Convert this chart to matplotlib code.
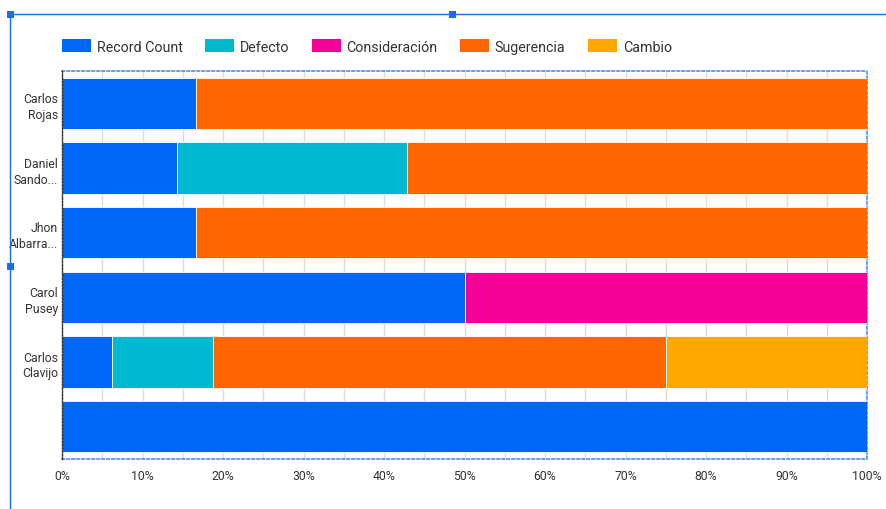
import matplotlib.pyplot as plt
import numpy as np
from matplotlib.lines import Line2D
from matplotlib.patches import Rectangle
from matplotlib.ticker import FuncFormatter, MultipleLocator

plt.rcParams["font.family"] = ["Roboto", "DejaVu Sans"]

people = ["Carlos\nRojas", "Daniel\nSando...", "Jhon\nAlbarra...", "Carol\nPusey", "Carlos\nClavijo", ""]
series_names = ["Record Count", "Defecto", "Consideración", "Sugerencia", "Cambio"]
record_count = [1, 1, 1, 1, 1, 1]
defecto = [0, 2, 0, 0, 2, 0]
consideracion = [0, 0, 0, 1, 0, 0]
sugerencia = [5, 4, 5, 0, 9, 0]
cambio = [0, 0, 0, 0, 4, 0]
colors = ["#0066F5", "#00B8CF", "#F50096", "#FF6600", "#FFA800"]

W, H = 886, 510
fig = plt.figure(figsize=(W / 100, H / 100), dpi=100)
ax = fig.add_axes([62 / W, (510 - 460) / H, (867 - 62) / W, (460 - 72) / H])

counts = np.array([record_count, defecto, consideracion, sugerencia, cambio], dtype=float)
shares = counts / counts.sum(axis=0) * 100
y = np.arange(len(people))

left = np.zeros(len(people))
handles = []
for name, vals, color in zip(series_names, shares, colors):
    ax.barh(y, vals, left=left, height=0.79, color=color, edgecolor="white",
            linewidth=0.6, zorder=3)
    left += vals
    handles.append(Rectangle((0, 0), 1, 1, facecolor=color, edgecolor="none"))

ax.set_xlim(0, 100)
ax.set_ylim(len(people) - 0.5, -0.5)
ax.set_yticks(y)
ax.set_yticklabels(people, fontsize=8.8, color="#333333", linespacing=1.3)
ax.xaxis.set_major_locator(MultipleLocator(10))
ax.xaxis.set_minor_locator(MultipleLocator(5))
ax.xaxis.set_major_formatter(FuncFormatter(lambda v, _: f"{v:.0f}%"))
ax.tick_params(axis="x", labelsize=8.8, labelcolor="#333333", length=0, pad=7)
ax.tick_params(axis="y", length=0, pad=3)
ax.tick_params(which="minor", length=0)
ax.grid(True, axis="x", which="both", color="#dcdcdc", linewidth=1, zorder=0)

# dotted plot-area border: blue outline, dark left axis
for side in ("top", "right", "bottom"):
    ax.spines[side].set_color("#4d8ff5")
    ax.spines[side].set_linestyle((0, (1.5, 1.5)))
    ax.spines[side].set_linewidth(1.2)
ax.spines["left"].set_color("#333333")
ax.spines["left"].set_linestyle((0, (1.2, 1.2)))
ax.spines["left"].set_linewidth(1)
ax.spines["left"].set_zorder(5)

fig.legend(handles, series_names, loc="center left", bbox_to_anchor=(62 / W, 1 - 47.5 / H),
           ncol=5, frameon=False, fontsize=10.3, handlelength=2.0, handleheight=1.0,
           handletextpad=0.42, columnspacing=1.58, borderpad=0, borderaxespad=0,
           labelcolor="#333333")

# selection frame with handles
frame_color = "#1a6ee8"
fig.add_artist(Line2D([10 / W, 1], [1 - 15 / H, 1 - 15 / H], color=frame_color, linewidth=1,
                      transform=fig.transFigure))
fig.add_artist(Line2D([10 / W, 10 / W], [0, 1 - 15 / H], color=frame_color, linewidth=1,
                      transform=fig.transFigure))
for hx, hy in [(10, 15), (453, 15), (10, 267)]:
    fig.add_artist(Rectangle(((hx - 3.5) / W, 1 - (hy + 3.5) / H), 7 / W, 7 / H,
                             facecolor=frame_color, edgecolor="none",
                             transform=fig.transFigure))

fig.savefig("out.png", dpi=100)
